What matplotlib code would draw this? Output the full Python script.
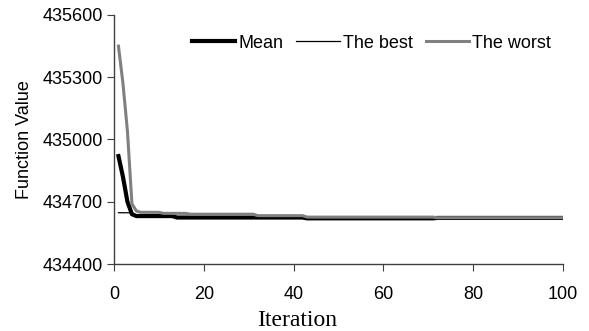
import numpy as np
import matplotlib.pyplot as plt

# iterations 1..100, values (step-like convergence)
iteration = np.arange(1, 101)

mean_vals = ([434920, 434820, 434700, 434640]
             + [434631] * 9          # 5-13
             + [434624] * 29         # 14-42
             + [434620] * 29         # 43-71
             + [434622] * 29)        # 72-100

best_vals = ([434647] * 4
             + [434630] * 9
             + [434624] * 29
             + [434619] * 58)

worst_vals = ([435450, 435270, 435040, 434690, 434655]
              + [434649] * 5         # 6-10
              + [434644] * 6         # 11-16
              + [434640] * 15        # 17-31
              + [434633] * 11        # 32-42
              + [434626] * 29        # 43-71
              + [434623] * 29)       # 72-100

y_ticks = [434400, 434700, 435000, 435300, 435600]
x_ticks = [0, 20, 40, 60, 80, 100]

plt.rcParams['font.family'] = 'Liberation Sans'

fig = plt.figure(figsize=(5.89, 3.31), dpi=100)
ax = fig.add_axes([0.1935, 0.2024, 0.7625, 0.7523])

ax.plot(iteration, mean_vals, color='black', linewidth=3.0, label='Mean')
ax.plot(iteration, best_vals, color='black', linewidth=0.9, label='The best')
ax.plot(iteration, worst_vals, color='#808080', linewidth=2.2, label='The worst')

ax.set_xlim(0, 100)
ax.set_ylim(434400, 435600)
ax.set_xticks(x_ticks)
ax.set_yticks(y_ticks)
ax.tick_params(axis='both', labelsize=13, length=5, color='#404040', direction='out')
ax.tick_params(axis='x', pad=11)
ax.tick_params(axis='y', pad=3)

for s in ['top', 'right']:
    ax.spines[s].set_visible(False)
for s in ['left', 'bottom']:
    ax.spines[s].set_color('#404040')
    ax.spines[s].set_linewidth(1.0)

ax.set_ylabel('Function Value', fontsize=13, labelpad=7)
fig.text(297 / 589, 1 - 320 / 331, 'Iteration', family='Liberation Serif',
         fontsize=17, ha='center', va='center')

ax.legend(loc='center left', bbox_to_anchor=(192 / 589, 1 - 43 / 331),
          bbox_transform=fig.transFigure, ncol=3, frameon=False, fontsize=13,
          handlelength=2.4, handletextpad=0.17, columnspacing=0.72,
          borderpad=0, borderaxespad=0)

plt.savefig('out.png', dpi=100)
